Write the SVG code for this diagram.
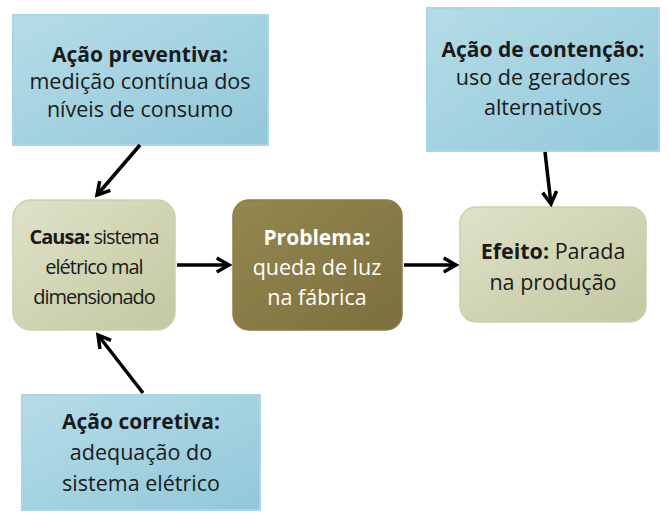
<svg xmlns="http://www.w3.org/2000/svg" width="670" height="515" viewBox="0 0 670 515">
<defs>
<linearGradient id="gBlue" x1="0" y1="0" x2="1" y2="1">
<stop offset="0" stop-color="#b6dce8"/>
<stop offset="1" stop-color="#92c8da"/>
</linearGradient>
<linearGradient id="gGreen" x1="0" y1="0" x2="1" y2="1">
<stop offset="0" stop-color="#dfe2c8"/>
<stop offset="1" stop-color="#c3c7a1"/>
</linearGradient>
<linearGradient id="gOlive" x1="0" y1="0" x2="1" y2="1">
<stop offset="0" stop-color="#94874f"/>
<stop offset="1" stop-color="#7c6f3e"/>
</linearGradient>
<marker id="ah" viewBox="0 0 10 10" refX="8" refY="5" markerWidth="5" markerHeight="5" orient="auto" markerUnits="strokeWidth">
<path d="M1,1 L8,5 L1,9" fill="none" stroke="#000" stroke-width="2"/>
</marker>
<style>
.blue{fill:url(#gBlue);stroke:#a8d6e4;stroke-width:2}
.green{fill:url(#gGreen);stroke:#cdd0ae;stroke-width:1.5}
.olive{fill:url(#gOlive);stroke:#8a7e4a;stroke-width:1.5}
text{font-family:"Open Sans","Noto Sans","Liberation Sans",sans-serif;font-size:21.5px;fill:#1a1a1a;text-anchor:middle}
.b{font-weight:bold;font-size:21px}
tspan.b{font-size:inherit}
.w{fill:#ffffff}
.cond{font-size:20px;letter-spacing:-1px}
.conn line{stroke:#000;stroke-width:3.5;marker-end:url(#ah)}
</style>
</defs>
<rect width="670" height="515" fill="#ffffff"/>
<g id="preventiva">
<rect class="blue" x="13" y="15" width="255" height="130"/>
<text x="140" y="62" class="b">Ação preventiva:</text>
<text x="140" y="89">medição contínua dos</text>
<text x="140" y="117">níveis de consumo</text>
</g>
<g id="contencao">
<rect class="blue" x="427" y="8" width="232" height="143"/>
<text x="543" y="57" class="b">Ação de contenção:</text>
<text x="543" y="85">uso de geradores</text>
<text x="543" y="115">alternativos</text>
</g>
<g id="corretiva">
<rect class="blue" x="22" y="395" width="238" height="115"/>
<text x="141" y="429" class="b">Ação corretiva:</text>
<text x="141" y="460">adequação do</text>
<text x="141" y="491">sistema elétrico</text>
</g>
<g id="causa">
<rect class="green" x="13" y="200" width="162" height="130" rx="18"/>
<text x="94" y="244" class="cond"><tspan class="b">Causa:</tspan> sistema</text>
<text x="94" y="274" class="cond">elétrico mal</text>
<text x="94" y="304" class="cond">dimensionado</text>
</g>
<g id="problema">
<rect class="olive" x="233" y="200" width="169" height="130" rx="16"/>
<text x="317" y="245" class="b w">Problema:</text>
<text x="317" y="275" class="w">queda de luz</text>
<text x="317" y="305" class="w">na fábrica</text>
</g>
<g id="efeito">
<rect class="green" x="460" y="207" width="186" height="115" rx="16"/>
<text x="553" y="259"><tspan class="b">Efeito:</tspan> Parada</text>
<text x="553" y="290">na produção</text>
</g>
<g class="conn" id="connectors">
<line x1="140" y1="145" x2="97" y2="195"/>
<line x1="545" y1="152" x2="551" y2="204"/>
<line x1="177" y1="265" x2="229" y2="265"/>
<line x1="404" y1="265" x2="456" y2="265"/>
<line x1="143" y1="393" x2="98" y2="335"/>
</g>
</svg>
